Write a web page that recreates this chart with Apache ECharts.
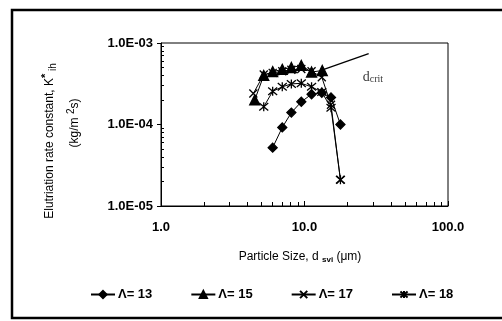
<!DOCTYPE html>
<html>
<head>
<meta charset="utf-8">
<script src="https://cdn.jsdelivr.net/npm/echarts@6/dist/echarts.min.js"></script>
<style>
  html, body { margin: 0; padding: 0; background: #fff; }
  #main { width: 502px; height: 321px; }
</style>
</head>
<body>
<div id="main"></div>
<script>
// series: [particle size (um), K*ih (kg/m2 s)]
var lam13 = [[6.0, 5.2e-5], [7.0, 9.2e-5], [8.1, 1.4e-4], [9.5, 1.9e-4], [11.2, 2.35e-4],
    [13.2, 2.45e-4], [15.3, 2.15e-4], [17.8, 1.0e-4]];
var lam15 = [[4.5, 2.0e-4], [5.2, 4.0e-4], [6.0, 4.45e-4], [7.0, 4.75e-4], [8.1, 5.0e-4],
    [9.5, 5.3e-4], [11.2, 4.4e-4], [13.3, 4.6e-4]];
var lam17 = [[4.4, 2.4e-4], [5.2, 4.1e-4], [6.0, 4.3e-4], [7.0, 4.5e-4], [8.1, 4.7e-4],
    [9.5, 4.8e-4], [11.2, 4.5e-4], [13.2, 3.8e-4], [15.3, 1.75e-4], [17.8, 2.1e-5]];
var lam18 = [[5.2, 1.65e-4], [6.0, 2.55e-4], [7.0, 2.9e-4], [8.1, 3.15e-4], [9.5, 3.2e-4],
    [11.2, 2.9e-4], [13.2, 2.5e-4], [15.3, 1.6e-4], [17.8, 2.1e-5]];
var dcritLine = [[13.5, 4.7e-4], [28, 7.4e-4]];
var dcritLabel = [[30, 3.8e-4]];

var names = ['\u039B= 13', '\u039B= 15', '\u039B= 17', '\u039B= 18'];

var crossPath = 'path://M0,0L10,10M10,0L0,10';
var starPath = 'path://M0,0L10,10M10,0L0,10M5,-1L5,11';

var font = 'Liberation Sans, Arial, sans-serif';

var chart = echarts.init(document.getElementById('main'));

function mkSeries(name, data, symbol, size) {
    return {
        name: name,
        type: 'line',
        data: data,
        symbol: symbol,
        symbolSize: size,
        showAllSymbol: true,
        lineStyle: { color: '#000', width: 1 },
        itemStyle: { color: '#000', borderColor: '#000', borderWidth: 1.3 },
        emphasis: { disabled: true },
        z: 3
    };
}

var option = {
    animation: false,
    backgroundColor: '#fff',
    graphic: [
        { type: 'rect', shape: { x: 12, y: 10, width: 500, height: 308 },
          style: { fill: 'none', stroke: '#000', lineWidth: 2.5 }, silent: true },
        { type: 'text', x: 50, y: 141, rotation: Math.PI / 2,
          style: { text: '{a|Elutriation rate constant, K}{s|*}{b| ih}', align: 'center', verticalAlign: 'middle',
            rich: {
                a: { fontFamily: font, fontSize: 12, fill: '#000' },
                s: { fontFamily: font, fontSize: 11, fontWeight: 'bold', fill: '#000', padding: [0, 0, 8, 0] },
                b: { fontFamily: font, fontSize: 10, fill: '#000', padding: [6, 0, 0, 0] }
            } } },
        { type: 'text', x: 75, y: 123, rotation: Math.PI / 2,
          style: { text: '{a|(kg/m }{s|2}{a|s)}', align: 'center', verticalAlign: 'middle',
            rich: {
                a: { fontFamily: font, fontSize: 12, fill: '#000' },
                s: { fontFamily: font, fontSize: 10, fill: '#000', padding: [0, 0, 8, 0] }
            } } },
        { type: 'text', x: 300, y: 257,
          style: { text: '{a|Particle Size, d }{b|svi}{a| (\u03BCm)}', align: 'center', verticalAlign: 'middle',
            rich: {
                a: { fontFamily: font, fontSize: 12, fill: '#000' },
                b: { fontFamily: font, fontSize: 8, fontWeight: 'bold', fill: '#000', padding: [5, 0, 0, 0] }
            } } }
    ],
    grid: { left: 161, right: 54, top: 43, bottom: 115, show: true, borderColor: '#000', borderWidth: 1, backgroundColor: 'transparent' },
    legend: {
        bottom: 15,
        left: 85,
        itemGap: 38,
        itemWidth: 24,
        itemHeight: 9,
        textStyle: { fontFamily: font, fontSize: 13, fontWeight: 'bold', color: '#000', padding: [0, 0, 0, -2] },
        data: names
    },
    xAxis: {
        type: 'log',
        logBase: 10,
        min: 1,
        max: 100,
        axisLine: { lineStyle: { color: '#000', width: 1 } },
        axisTick: { inside: true, length: 5, lineStyle: { color: '#000' } },
        minorTick: { show: true, splitNumber: 9, length: 4, lineStyle: { color: '#000' } },
        splitLine: { show: false },
        axisLabel: { fontFamily: font, fontSize: 13, fontWeight: 'bold', color: '#000', margin: 15,
            formatter: function (v) { return v.toFixed(1); } }
    },
    yAxis: {
        type: 'log',
        logBase: 10,
        min: 1e-5,
        max: 1e-3,
        axisLine: { lineStyle: { color: '#000', width: 1 } },
        axisTick: { length: 4, lineStyle: { color: '#000' } },
        minorTick: { show: true, splitNumber: 9, length: -3, lineStyle: { color: '#000' } },
        splitLine: { show: false },
        axisLabel: { fontFamily: font, fontSize: 13, fontWeight: 'bold', color: '#000', margin: 8,
            formatter: function (v) {
                var e = Math.round(Math.log10(v));
                return '1.0E-' + String(-e).padStart(2, '0');
            } }
    },
    series: [
        mkSeries(names[0], lam13, 'diamond', 9),
        mkSeries(names[1], lam15, 'triangle', 10),
        mkSeries(names[2], lam17, crossPath, 8),
        mkSeries(names[3], lam18, starPath, 9),
        {
            type: 'line', data: dcritLine, symbol: 'none', silent: true,
            lineStyle: { color: '#000', width: 1.3 }, z: 2
        },
        {
            type: 'scatter', data: dcritLabel, symbol: 'circle', symbolSize: 1, silent: true,
            itemStyle: { color: 'rgba(0,0,0,0)' },
            label: { show: true, position: 'inside',
                formatter: '{a|d}{b|crit}',
                rich: {
                    a: { fontFamily: 'Liberation Serif, serif', fontSize: 14, color: '#000' },
                    b: { fontFamily: 'Liberation Serif, serif', fontSize: 10, color: '#000', padding: [5, 0, 0, 0] }
                } }
        }
    ]
};
chart.setOption(option);
</script>
</body>
</html>
